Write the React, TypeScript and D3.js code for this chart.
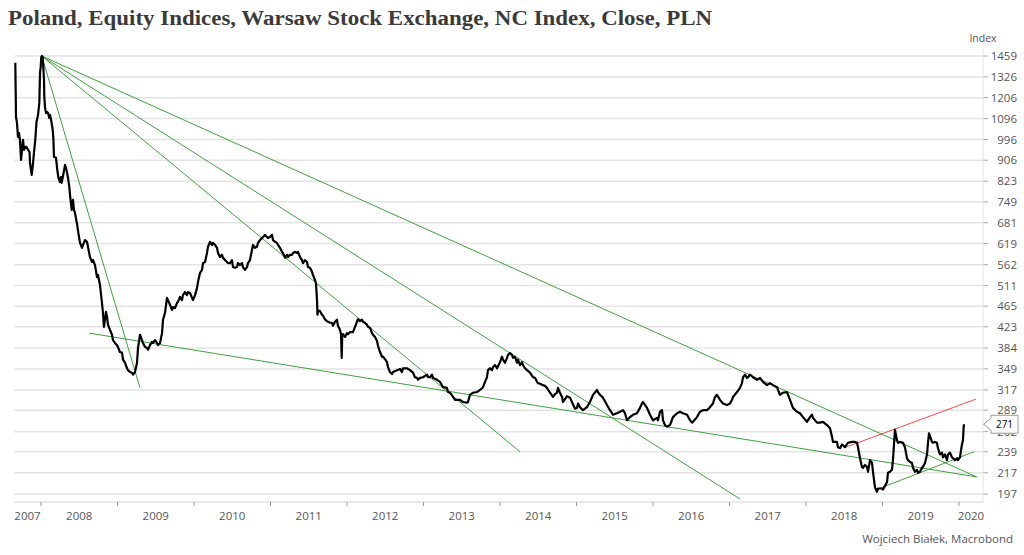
import React from 'react';
import * as d3 from 'd3';

// ---------- data ----------
const yTicks = [197, 217, 239, 262, 289, 317, 349, 384, 423, 465, 511, 562, 619, 681, 749, 823, 906, 996, 1096, 1206, 1326, 1459];
const yearTicks = [2008, 2009, 2010, 2011, 2012, 2013, 2014, 2015, 2016, 2017, 2018, 2019, 2020];
const yearLabels = [2007, 2008, 2009, 2010, 2011, 2012, 2013, 2014, 2015, 2016, 2017, 2018, 2019, 2020];

const s2007: [number, number][] = [[2007.664,1414],[2007.669,1249],[2007.673,1104],[2007.686,1075],[2007.699,1008],[2007.712,1026],[2007.725,994],[2007.739,907],[2007.752,950],[2007.765,994],[2007.778,950],[2007.791,963],[2007.810,963],[2007.830,950],[2007.850,941],[2007.856,895],[2007.869,867],[2007.878,847],[2007.891,879],[2007.908,937],[2007.925,994],[2007.941,1079],[2007.961,1114],[2007.978,1178],[2007.987,1350],[2007.996,1388]];
const s2008: [number, number][] = [[2008.004,1453],[2008.013,1459],[2008.022,1453],[2008.030,1388],[2008.039,1308],[2008.043,1210],[2008.052,1156],[2008.065,1124],[2008.078,1130],[2008.092,1124],[2008.109,1099],[2008.118,1114],[2008.137,1079],[2008.153,1041],[2008.161,1003],[2008.170,920],[2008.196,916],[2008.213,867],[2008.226,839],[2008.248,820],[2008.261,839],[2008.270,817],[2008.288,843],[2008.314,887],[2008.333,867],[2008.353,836],[2008.370,802],[2008.379,773],[2008.401,722],[2008.418,756],[2008.431,722],[2008.444,712],[2008.471,677],[2008.488,650],[2008.510,621],[2008.536,607],[2008.549,615],[2008.575,629],[2008.601,624],[2008.614,610],[2008.640,582],[2008.667,569],[2008.680,574],[2008.706,561],[2008.732,531],[2008.745,536],[2008.771,512],[2008.797,472],[2008.810,451],[2008.823,423],[2008.850,453],[2008.863,443],[2008.876,427],[2008.902,417],[2008.928,408],[2008.941,398],[2008.967,393],[2008.993,389]];
const s2009: [number, number][] = [[2009.006,386],[2009.032,377],[2009.059,376],[2009.072,364],[2009.098,359],[2009.124,350],[2009.137,347],[2009.163,344],[2009.189,343],[2009.203,340],[2009.229,344],[2009.255,359],[2009.268,384],[2009.294,408],[2009.320,398],[2009.333,393],[2009.359,386],[2009.386,384],[2009.399,381],[2009.425,389],[2009.451,395],[2009.464,393],[2009.490,398],[2009.516,393],[2009.529,389],[2009.556,393],[2009.582,411],[2009.595,437],[2009.621,451],[2009.647,483],[2009.660,478],[2009.686,468],[2009.712,457],[2009.725,463],[2009.752,461],[2009.778,472],[2009.791,474],[2009.817,485],[2009.843,478],[2009.856,489],[2009.882,496],[2009.908,489],[2009.921,496],[2009.948,494],[2009.974,483],[2009.987,478]];
const s2010: [number, number][] = [[2010.013,489],[2010.039,505],[2010.052,519],[2010.078,541],[2010.105,549],[2010.118,566],[2010.144,569],[2010.170,593],[2010.183,610],[2010.209,624],[2010.235,615],[2010.248,621],[2010.275,615],[2010.301,607],[2010.314,593],[2010.340,582],[2010.366,588],[2010.379,580],[2010.405,574],[2010.431,569],[2010.444,566],[2010.471,566],[2010.497,574],[2010.510,556],[2010.536,554],[2010.562,556],[2010.575,566],[2010.601,561],[2010.627,566],[2010.640,556],[2010.667,549],[2010.693,556],[2010.706,566],[2010.732,574],[2010.758,601],[2010.771,615],[2010.797,607],[2010.823,610],[2010.837,621],[2010.863,629],[2010.889,635],[2010.902,638],[2010.928,644],[2010.954,638],[2010.967,635],[2010.993,638]];
const s2011: [number, number][] = [[2011.020,644],[2011.033,629],[2011.059,624],[2011.085,621],[2011.098,615],[2011.124,607],[2011.150,596],[2011.163,593],[2011.190,580],[2011.216,588],[2011.229,582],[2011.255,588],[2011.281,588],[2011.294,593],[2011.320,596],[2011.346,593],[2011.359,596],[2011.386,582],[2011.412,574],[2011.425,566],[2011.451,574],[2011.477,569],[2011.490,556],[2011.516,554],[2011.542,544],[2011.556,536],[2011.582,524],[2011.595,515],[2011.608,478],[2011.614,447],[2011.621,455],[2011.647,455],[2011.673,447],[2011.686,445],[2011.712,438],[2011.739,434],[2011.778,431],[2011.804,431],[2011.817,425],[2011.843,433],[2011.869,437],[2011.882,425],[2011.909,417],[2011.922,409],[2011.931,367],[2011.938,409],[2011.948,409],[2011.974,404]];
const s2012: [number, number][] = [[2012.000,411],[2012.013,409],[2012.039,413],[2012.078,413],[2012.105,423],[2012.131,433],[2012.144,438],[2012.170,434],[2012.196,437],[2012.209,433],[2012.235,431],[2012.261,427],[2012.274,423],[2012.301,421],[2012.327,411],[2012.340,408],[2012.366,404],[2012.392,397],[2012.405,388],[2012.431,377],[2012.458,369],[2012.471,369],[2012.497,365],[2012.523,360],[2012.536,352],[2012.562,344],[2012.588,341],[2012.601,344],[2012.654,347],[2012.693,349],[2012.719,344],[2012.732,350],[2012.784,350],[2012.824,347],[2012.863,343],[2012.889,336],[2012.915,335],[2012.928,332],[2012.954,335],[2012.994,336]];
const s2013: [number, number][] = [[2013.046,340],[2013.059,336],[2013.085,336],[2013.111,340],[2013.124,335],[2013.176,332],[2013.216,329],[2013.255,321],[2013.307,320],[2013.320,314],[2013.346,313],[2013.386,307],[2013.412,303],[2013.438,303],[2013.477,303],[2013.516,300],[2013.569,299],[2013.582,300],[2013.608,310],[2013.647,313],[2013.699,314],[2013.739,317],[2013.778,321],[2013.804,329],[2013.830,336],[2013.843,347],[2013.869,350],[2013.895,347],[2013.909,352],[2013.935,355],[2013.961,350]];
const s2014: [number, number][] = [[2014.000,360],[2014.026,369],[2014.039,364],[2014.065,359],[2014.092,367],[2014.105,372],[2014.131,375],[2014.157,372],[2014.170,367],[2014.196,369],[2014.222,359],[2014.235,364],[2014.261,355],[2014.288,360],[2014.301,355],[2014.327,350],[2014.353,347],[2014.392,343],[2014.431,336],[2014.458,335],[2014.484,329],[2014.497,327],[2014.523,326],[2014.562,324],[2014.588,323],[2014.614,320],[2014.654,313],[2014.693,307],[2014.719,311],[2014.745,313],[2014.758,320],[2014.784,313],[2014.811,307],[2014.824,300],[2014.850,304],[2014.876,308],[2014.915,306],[2014.954,297],[2014.980,291]];
const s2015: [number, number][] = [[2015.007,292],[2015.020,298],[2015.046,293],[2015.085,289],[2015.137,293],[2015.176,300],[2015.216,310],[2015.268,317],[2015.281,314],[2015.307,310],[2015.346,306],[2015.399,296],[2015.438,289],[2015.464,285],[2015.477,283],[2015.529,285],[2015.569,287],[2015.608,289],[2015.634,285],[2015.660,276],[2015.699,280],[2015.739,283],[2015.791,285],[2015.830,292],[2015.856,298],[2015.869,300],[2015.895,296],[2015.922,292],[2015.961,283]];
const s2016: [number, number][] = [[2016.000,276],[2016.052,279],[2016.065,276],[2016.092,287],[2016.118,289],[2016.131,276],[2016.157,270],[2016.183,268],[2016.222,270],[2016.261,280],[2016.314,285],[2016.353,287],[2016.392,285],[2016.445,283],[2016.484,276],[2016.510,273],[2016.523,274],[2016.575,280],[2016.614,287],[2016.654,289],[2016.706,289],[2016.745,293],[2016.784,298],[2016.811,307],[2016.837,310],[2016.876,303],[2016.915,298],[2016.967,296]];
const s2017: [number, number][] = [[2017.007,298],[2017.033,303],[2017.046,307],[2017.098,314],[2017.137,320],[2017.163,327],[2017.177,336],[2017.203,340],[2017.229,335],[2017.242,336],[2017.268,340],[2017.307,336],[2017.360,332],[2017.399,335],[2017.438,329],[2017.490,324],[2017.529,327],[2017.569,324],[2017.621,321],[2017.634,317],[2017.660,310],[2017.699,313],[2017.752,314],[2017.791,303],[2017.830,292],[2017.882,287],[2017.922,285],[2017.961,280]];
const s2018: [number, number][] = [[2018.013,274],[2018.052,280],[2018.078,283],[2018.092,279],[2018.144,273],[2018.183,273],[2018.222,274],[2018.275,270],[2018.314,266],[2018.340,256],[2018.353,250],[2018.405,250],[2018.418,244],[2018.444,243],[2018.471,247],[2018.510,244],[2018.549,249],[2018.601,250],[2018.641,250],[2018.667,249],[2018.680,244],[2018.706,232],[2018.732,223],[2018.745,222],[2018.771,225],[2018.798,223],[2018.811,218],[2018.837,230],[2018.863,227],[2018.876,218],[2018.902,203],[2018.928,199],[2018.941,202],[2018.994,202]];
const s2019: [number, number][] = [[2019.007,201],[2019.059,208],[2019.072,217],[2019.098,218],[2019.124,220],[2019.137,230],[2019.163,264],[2019.190,252],[2019.203,249],[2019.229,250],[2019.268,249],[2019.294,244],[2019.320,232],[2019.333,230],[2019.360,228],[2019.386,227],[2019.399,222],[2019.425,218],[2019.451,220],[2019.464,217],[2019.490,218],[2019.516,222],[2019.529,223],[2019.556,227],[2019.582,236],[2019.595,249],[2019.608,260],[2019.647,250],[2019.660,249],[2019.686,250],[2019.712,249],[2019.725,243],[2019.752,236],[2019.778,238],[2019.791,233],[2019.817,236],[2019.843,230],[2019.856,236],[2019.882,238],[2019.908,233],[2019.922,232],[2019.948,230],[2019.974,232],[2019.987,230]];
const s2020: [number, number][] = [[2020.013,233],[2020.039,247],[2020.052,252],[2020.059,264],[2020.065,271]];

const ncSeries = [...s2007, ...s2008, ...s2009, ...s2010, ...s2011, ...s2012, ...s2013, ...s2014, ...s2015, ...s2016, ...s2017, ...s2018, ...s2019, ...s2020];

// trend lines: [startYear, startValue, endYear, endValue]
const greenTrends: [number, number, number, number][] = [
  [2008.01, 1459, 2020.231, 213],
  [2008.01, 1459, 2017.137, 192.6],
  [2008.01, 1459, 2014.261, 239],
  [2008.01, 1459, 2009.294, 320],
  [2008.631, 411, 2020.231, 213],
  [2018.941, 201.5, 2020.196, 239],
];
const redTrends: [number, number, number, number][] = [
  [2018.51, 243.7, 2020.222, 304],
];

const lastValue = 271;
const title = 'Poland, Equity Indices, Warsaw Stock Exchange, NC Index, Close, PLN';
const source = 'Wojciech Białek, Macrobond';

export default function App() {
  const W = 1024, H = 555;
  const left = 14, right = 983, plotTop = 48, plotBottom = 502;
  const domainStart = 2007.647, domainEnd = 2020.314;
  const x = d3.scaleLinear().domain([domainStart, domainEnd]).range([left, right]);
  const y = d3.scaleLog().domain([197, 1459]).range([494, 56]);
  const line = d3.line<[number, number]>().x(d => x(d[0])).y(d => y(d[1]));
  const font = "'Open Sans', 'Noto Sans', sans-serif";
  const lastY = y(lastValue);
  const cx0 = 983.5, bx = 991, bw = 27, bh = 18;

  return (
    <svg width={W} height={H} style={{ position: 'absolute', left: 0, top: 0, background: '#fff' }}>
      <text x={8} y={25} fontFamily="'Liberation Serif', 'DejaVu Serif', serif" fontWeight="bold" fontSize={20.5} fill="#3a3a3a" textLength={704} lengthAdjust="spacingAndGlyphs">{title}</text>
      {yTicks.map(t => (
        <g key={t}>
          <line x1={left} x2={right} y1={y(t)} y2={y(t)} stroke="#e3e3e3" strokeWidth={1.5} />
          <line x1={right} x2={988} y1={y(t)} y2={y(t)} stroke="#aaa" strokeWidth={1} />
          <text x={1017} y={y(t)} dy="0.36em" textAnchor="end" fontFamily={font} fontSize={11.5} fill="#555">{t}</text>
        </g>
      ))}
      <line x1={right} x2={right} y1={plotTop} y2={plotBottom} stroke="#e3e3e3" strokeWidth={1} />
      <line x1={left} x2={right} y1={plotBottom} y2={plotBottom} stroke="#e3e3e3" strokeWidth={1.5} />
      {yearTicks.map(t => (
        <line key={t} x1={x(t)} x2={x(t)} y1={plotBottom} y2={plotBottom + 4} stroke="#999" strokeWidth={1} />
      ))}
      {yearLabels.map(yr => {
        const a = Math.max(yr, domainStart), b = Math.min(yr + 1, domainEnd);
        return <text key={yr} x={x((a + b) / 2)} y={520} textAnchor="middle" fontFamily={font} fontSize={11.5} fill="#555">{yr}</text>;
      })}
      <text x={983} y={42} textAnchor="middle" fontFamily={font} fontSize={10.5} fill="#555">Index</text>
      <text x={1013} y={543} textAnchor="end" fontFamily={font} fontSize={11.5} fill="#555">{source}</text>

      {greenTrends.map((t, i) => (
        <line key={'g' + i} x1={x(t[0])} y1={y(t[1])} x2={x(t[2])} y2={y(t[3])} stroke="#3da23d" strokeWidth={1} />
      ))}
      {redTrends.map((t, i) => (
        <line key={'r' + i} x1={x(t[0])} y1={y(t[1])} x2={x(t[2])} y2={y(t[3])} stroke="#ff4747" strokeWidth={1} />
      ))}
      <path d={line(ncSeries) || ''} fill="none" stroke="#000" strokeWidth={2.2} strokeLinejoin="round" />

      <path d={`M${cx0},${lastY} L${bx},${lastY - 6} L${bx},${lastY - bh / 2} L${bx + bw},${lastY - bh / 2} L${bx + bw},${lastY + bh / 2} L${bx},${lastY + bh / 2} L${bx},${lastY + 6} Z`} fill="#fff" stroke="#999" strokeWidth={1} />
      <text x={bx + bw / 2} y={lastY} dy="0.35em" textAnchor="middle" fontFamily={font} fontSize={10} fill="#000">{lastValue}</text>
    </svg>
  );
}
